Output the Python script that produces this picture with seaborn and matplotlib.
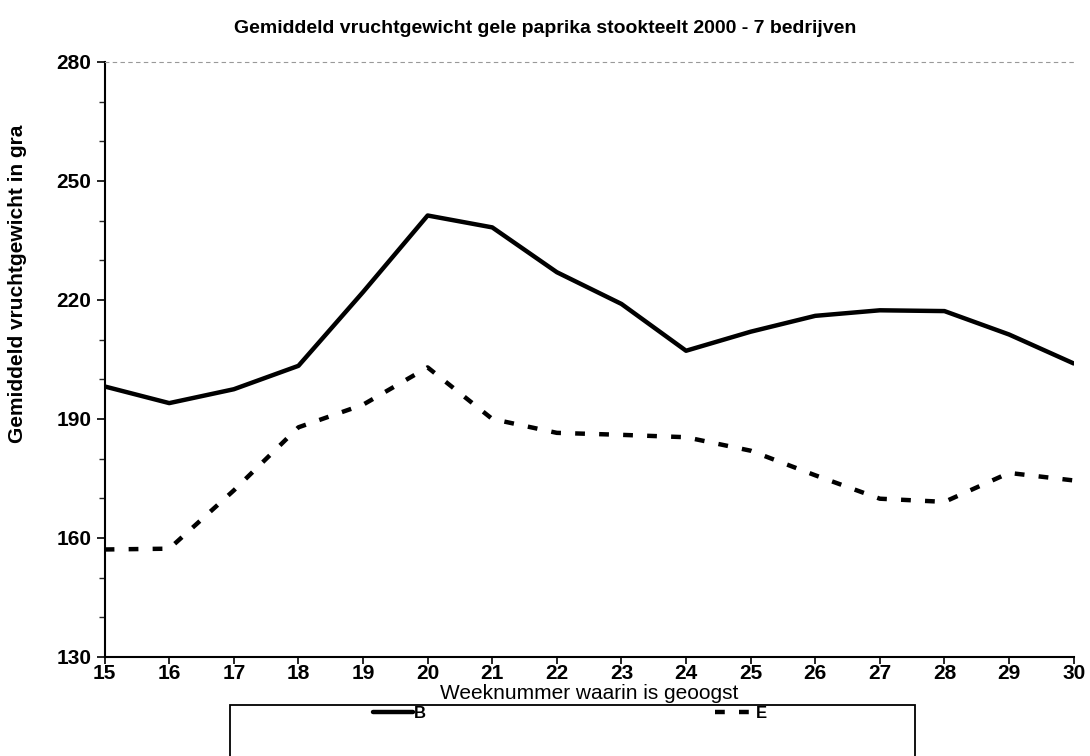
import pandas as pd
import matplotlib
matplotlib.use("Agg")
import matplotlib.pyplot as plt
from matplotlib.patches import Rectangle
import seaborn as sns

# weken en gemiddelde vruchtgewichten (gram)
weken = list(range(15, 31))
gewicht_b = [198.2, 194.0, 197.5, 203.4, 222.0, 241.3, 238.3, 227.0,
             219.0, 207.2, 212.0, 216.0, 217.4, 217.2, 211.3, 204.0]
gewicht_e = [157.1, 157.3, 172.0, 187.9, 193.6, 203.0, 190.0, 186.5,
             186.0, 185.4, 182.0, 175.8, 169.9, 169.1, 176.4, 174.5]
reeksen = ["B", "E"]

df = pd.DataFrame({
    "week": weken * 2,
    "gewicht": gewicht_b + gewicht_e,
    "bedrijf": [reeksen[0]] * len(weken) + [reeksen[1]] * len(weken),
})

sns.set_style("ticks")
plt.rcParams["font.family"] = ["Liberation Sans", "DejaVu Sans"]
plt.rcParams["text.color"] = "black"

fig = plt.figure(figsize=(10.9, 7.56), dpi=100)
ax = fig.add_axes([0.096, 0.131, 0.889, 0.787])

sns.lineplot(data=df, x="week", y="gewicht", style="bedrijf",
             dashes={"B": "", "E": (2.2, 3.2)}, color="black",
             linewidth=3.2, ax=ax, legend=False)

ax.set_xlim(15, 30)
ax.set_ylim(130, 280)
ax.set_xticks(weken)
ax.set_yticks(range(130, 281, 30))
ax.set_yticks(range(130, 281, 10), minor=True)
ax.tick_params(axis="both", labelsize=15, width=1.2, length=6,
               colors="black", labelcolor="black")
ax.tick_params(axis="x", pad=0, length=5)
ax.tick_params(axis="y", which="minor", length=4, width=1)
for lbl in ax.get_xticklabels() + ax.get_yticklabels():
    lbl.set_fontweight("bold")

for s in ["left", "bottom"]:
    ax.spines[s].set_linewidth(1.5)
    ax.spines[s].set_color("black")
ax.spines["right"].set_visible(False)
ax.spines["top"].set_linestyle((0, (3, 4)))
ax.spines["top"].set_color("#999999")
ax.spines["top"].set_linewidth(0.8)

ax.set_xlabel("Weeknummer waarin is geoogst", fontsize=15, labelpad=1, color="black")
ax.set_ylabel("Gemiddeld vruchtgewicht in gra", fontsize=15,
              fontweight="bold", color="black")
ax.yaxis.set_label_coords(-0.080, 0.627)
fig.text(0.5, 0.962, "Gemiddeld vruchtgewicht gele paprika stookteelt 2000 - 7 bedrijven",
         ha="center", va="center", fontsize=14, fontweight="bold")

# legendakader, loopt onder de rand van de figuur door
fig.patches.append(Rectangle((230 / 1090, -0.05), 685 / 1090, 0.05 + 51 / 756,
                             transform=fig.transFigure, fill=False,
                             edgecolor="black", linewidth=1.3))
handles = [plt.Line2D([], [], color="black", lw=3.2),
           plt.Line2D([], [], color="black", lw=3.2, dashes=(2.2, 3.2))]
leg = fig.legend(handles, reeksen, loc="center", bbox_to_anchor=(0.523, 1 - 713 / 756),
                 ncol=2, frameon=False, fontsize=12, handlelength=2.4,
                 handletextpad=0.1, columnspacing=17.3, borderaxespad=0)
for t in leg.get_texts():
    t.set_fontweight("bold")

fig.savefig("out.png", dpi=100)
